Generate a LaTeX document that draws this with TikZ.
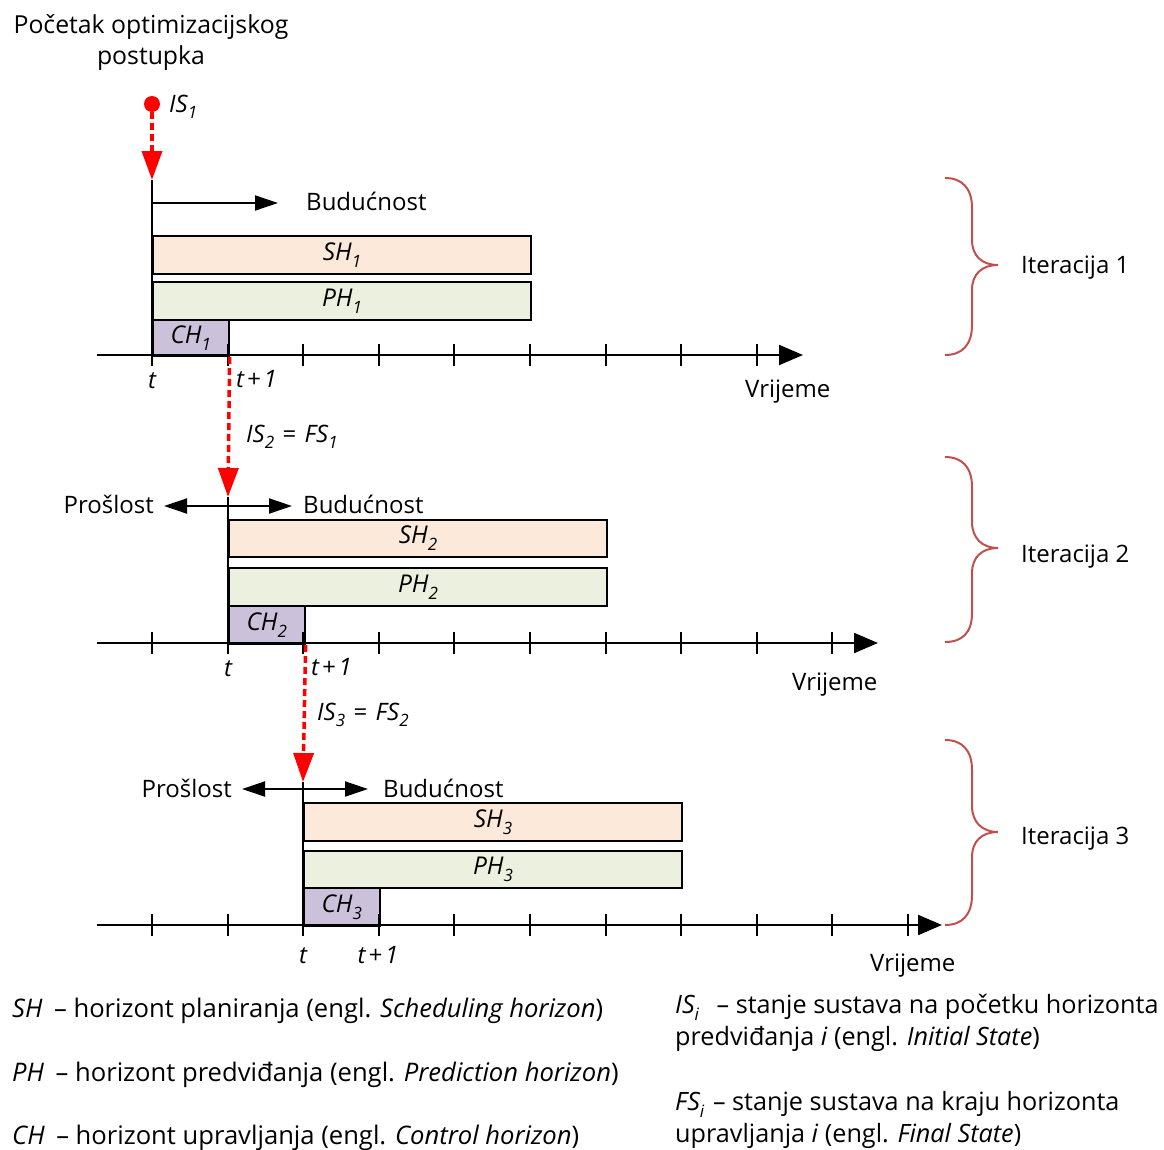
\documentclass[tikz,border=0pt]{standalone}
\usepackage{fontspec}
\setmainfont{Open Sans}
\usetikzlibrary{arrows.meta}
\definecolor{shfill}{HTML}{FDE9D9}
\definecolor{phfill}{HTML}{EBF1DE}
\definecolor{chfill}{HTML}{CCC1DA}
\definecolor{bracecol}{HTML}{C0504D}
\definecolor{redarr}{HTML}{FF0000}
\newcommand\sbs[1]{\raisebox{-0.28em}{\fontsize{17}{17}\selectfont #1}}
\newcommand\tplus{t\hspace{0.12em}+\hspace{0.12em}1}
\begin{document}
\begin{tikzpicture}[x=1pt,y=-1pt,
  every node/.style={font=\fontsize{24}{30}\selectfont, inner sep=0pt},
  box/.style={draw=black, line width=2pt, anchor=north west, font=\fontsize{24.5}{30}\selectfont\itshape},
  shbox/.style={box, fill=shfill, minimum width=378pt, minimum height=38pt},
  phbox/.style={box, fill=phfill, minimum width=378pt, minimum height=38pt},
  chbox/.style={box, fill=chfill, minimum width=75.6pt, minimum height=37pt},
  axisline/.style={line width=2pt, -{Triangle[length=24pt,width=20pt]}},
  tickline/.style={line width=2pt},
  vline/.style={line width=2pt},
  blackarrow/.style={line width=2pt, -{Triangle[length=23pt,width=15pt]}},
  dblarrow/.style={line width=2pt, {Triangle[length=23pt,width=15pt]}-{Triangle[length=23pt,width=15pt]}},
  redarrow/.style={draw=redarr, line width=3.5pt, dash pattern=on 7pt off 4pt, -{Triangle[length=29pt,width=20pt]}},
  reddot/.style={circle, fill=redarr, minimum size=16pt},
  bracepath/.style={draw=bracecol, line width=2pt},
  lbl/.style={anchor=base},
  itlbl/.style={anchor=base, font=\fontsize{24}{30}\selectfont\itshape},
  legend/.style={anchor=base west, font=\fontsize{25.6}{32}\selectfont},
  legendr/.style={anchor=base west, font=\fontsize{25.2}{32}\selectfont},
]
\useasboundingbox (0,0) rectangle (1164,1149);

% title (base anchor = last line)
\node[align=center, anchor=base, font=\fontsize{24.8}{30.5}\selectfont] (title) at (151,64) {Početak optimizacijskog\\postupka};

% ---------------- Iteration 1 ----------------
\node[reddot] (is1) at (152,104) {};
\node[itlbl, anchor=base west] (is1l) at (169,112) {IS\sbs{1}};
\coordinate (v1) at (152,180);
\coordinate (v1b) at (152,366);
\draw[redarrow] (is1) -- (v1);
\draw[vline] (v1) -- (v1b);
\coordinate (f1s) at (152,203);
\coordinate (f1e) at (278,203);
\draw[blackarrow] (f1s) -- (f1e);
\node[lbl, anchor=base west] (bud1) at (306,210) {Budućnost};
\node[shbox] (sh1) at (152,235) {SH\sbs{1}};
\node[phbox] (ph1) at (152,281) {PH\sbs{1}};
\node[chbox, minimum height=36pt] (ch1) at (152,319) {CH\sbs{1}};
\coordinate (ax1s) at (97,355);
\coordinate (ax1e) at (803,355);
\draw[axisline] (ax1s) -- (ax1e);
\foreach \i in {1,...,8} \draw[tickline] ({152+75.6*\i},344) -- ++(0,22);
\node[itlbl] (t1) at (152,388) {t};
\node[itlbl, anchor=base west] (t1p) at (236,387) {\tplus};
\node[lbl, anchor=base west] (vr1) at (745,397) {Vrijeme};
\draw[bracepath] (945,178) .. controls (962,178) and (972,188) .. (972,208) -- (972,240) .. controls (972,256) and (982,265) .. (998,265) .. controls (982,265) and (972,274) .. (972,290) -- (972,325) .. controls (972,345) and (962,355) .. (945,355);
\node[lbl, anchor=base west] (it1) at (1021,273) {Iteracija 1};

% ---------------- Iteration 2 ----------------
\coordinate (v2) at (228,497);
\coordinate (v2b) at (228,654);
\draw[redarrow] (ch1.south east) -- (v2);
\node[itlbl, anchor=base west] (is2l) at (246,442) {IS\sbs{2}\hspace{0.35em}\upshape=\itshape\hspace{0.35em}FS\sbs{1}};
\draw[vline] (v2) -- (v2b);
\coordinate (p2) at (164,506);
\coordinate (f2) at (292,506);
\draw[dblarrow] (p2) -- (f2);
\node[lbl, anchor=base east] (pro2) at (154,513) {Prošlost};
\node[lbl, anchor=base west] (bud2) at (303,513) {Budućnost};
\node[shbox, minimum height=37pt] (sh2) at (228,519) {SH\sbs{2}};
\node[phbox] (ph2) at (228,567) {PH\sbs{2}};
\node[chbox, minimum height=38pt] (ch2) at (228,605) {CH\sbs{2}};
\coordinate (ax2s) at (97,643);
\coordinate (ax2e) at (878,643);
\draw[axisline] (ax2s) -- (ax2e);
\foreach \i in {0,2,3,...,9} \draw[tickline] ({152+75.6*\i},632) -- ++(0,22);
\node[itlbl] (t2) at (228,676) {t};
\node[itlbl, anchor=base west] (t2p) at (311,675) {\tplus};
\node[lbl, anchor=base west] (vr2) at (792,690) {Vrijeme};
\draw[bracepath] (945,457) .. controls (962,457) and (972,467) .. (972,487) -- (972,522) .. controls (972,538) and (982,548) .. (998,548) .. controls (982,548) and (972,557) .. (972,573) -- (972,613) .. controls (972,633) and (962,642) .. (945,642);
\node[lbl, anchor=base west] (it2) at (1021,562) {Iteracija 2};

% ---------------- Iteration 3 ----------------
\coordinate (v3) at (303,782);
\coordinate (v3b) at (303,936);
\draw[redarrow] (ch2.south east) -- (v3);
\node[itlbl, anchor=base west] (is3l) at (317,720) {IS\sbs{3}\hspace{0.35em}\upshape=\itshape\hspace{0.35em}FS\sbs{2}};
\draw[vline] (v3) -- (v3b);
\coordinate (p3) at (242,789);
\coordinate (f3) at (368,789);
\draw[dblarrow] (p3) -- (f3);
\node[lbl, anchor=base east] (pro3) at (232,797) {Prošlost};
\node[lbl, anchor=base west] (bud3) at (383,797) {Budućnost};
\node[shbox] (sh3) at (303,802) {SH\sbs{3}};
\node[phbox, minimum height=37pt] (ph3) at (303,850) {PH\sbs{3}};
\node[chbox, minimum height=38pt] (ch3) at (303,887) {CH\sbs{3}};
\coordinate (ax3s) at (97,925);
\coordinate (ax3e) at (942,925);
\draw[axisline] (ax3s) -- (ax3e);
\foreach \i in {0,1,3,4,...,10} \draw[tickline] ({152+75.6*\i},914) -- ++(0,22);
\node[itlbl] (t3) at (303,963) {t};
\node[itlbl] (t3p) at (378,963) {\tplus};
\node[lbl, anchor=base west] (vr3) at (870,971) {Vrijeme};
\draw[bracepath] (945,740) .. controls (962,740) and (972,750) .. (972,770) -- (972,806) .. controls (972,822) and (982,832) .. (998,832) .. controls (982,832) and (972,841) .. (972,857) -- (972,895) .. controls (972,915) and (962,925) .. (945,925);
\node[lbl, anchor=base west] (it3) at (1021,844) {Iteracija 3};

% ---------------- Legend ----------------
\node[legend] (lsh) at (12,1017) {\textit{SH}\hspace{0.45em}– horizont planiranja (engl. \textit{Scheduling horizon})};
\node[legend] (lph) at (12,1081) {\textit{PH}\hspace{0.45em}– horizont predviđanja (engl. \textit{Prediction horizon})};
\node[legend] (lch) at (12,1144) {\textit{CH}\hspace{0.45em}– horizont upravljanja (engl. \textit{Control horizon})};
\node[legendr, align=left] (lis) at (675,1045) {\textit{IS\sbs{i}}\hspace{0.7em}– stanje sustava na početku horizonta\\predviđanja \textit{i} (engl. \textit{Initial State})};
\node[legendr, align=left] (lfs) at (675,1142) {\textit{FS\sbs{i}}\hspace{0.35em}– stanje sustava na kraju horizonta\\upravljanja \textit{i} (engl. \textit{Final State})};
\end{tikzpicture}
\end{document}
